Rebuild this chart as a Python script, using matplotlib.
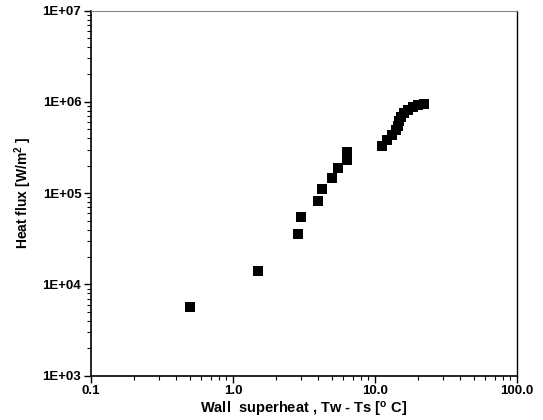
import matplotlib
matplotlib.use("Agg")
import matplotlib.pyplot as plt
from matplotlib.ticker import LogLocator, FixedLocator, NullFormatter

plt.rcParams['font.family'] = ['Liberation Sans', 'DejaVu Sans']
plt.rcParams['mathtext.default'] = 'bf'

superheat = [0.50, 1.50, 2.87, 3.01, 3.97, 4.22, 4.98, 5.49, 6.32, 6.32,
             11.2, 12.1, 13.1, 14.0, 14.6, 14.8, 15.2, 16.0, 17.0, 18.5, 20.0, 22.0]
heat_flux = [5.7e3, 1.42e4, 3.57e4, 5.48e4, 8.2e4, 1.11e5, 1.47e5, 1.89e5, 2.31e5, 2.83e5,
             3.3e5, 3.8e5, 4.3e5, 4.9e5, 5.5e5, 6.2e5, 6.8e5, 7.5e5, 8.2e5, 8.8e5, 9.2e5, 9.6e5]

xticks = [0.1, 1.0, 10.0, 100.0]
xticklabels = ["0.1", "1.0", "10.0", "100.0"]
yticks = [1e3, 1e4, 1e5, 1e6, 1e7]
yticklabels = ["1E+03", "1E+04", "1E+05", "1E+06", "1E+07"]

fig = plt.figure(figsize=(5.43, 4.2), dpi=100)
ax = fig.add_axes([0.1676, 0.1055, 0.952 - 0.1676, 0.9745 - 0.1055])

ax.plot(superheat, heat_flux, linestyle='none', marker='s', markersize=7,
        color='black', markeredgewidth=0)

ax.set_xscale('log')
ax.set_yscale('log')
ax.set_xlim(0.1, 100)
ax.set_ylim(1e3, 1e7)

ax.xaxis.set_major_locator(FixedLocator(xticks))
ax.set_xticklabels(xticklabels)
ax.yaxis.set_major_locator(FixedLocator(yticks))
ax.set_yticklabels(yticklabels)
ax.xaxis.set_minor_locator(LogLocator(base=10, subs=range(2, 10)))
ax.yaxis.set_minor_locator(LogLocator(base=10, subs=range(2, 10)))
ax.xaxis.set_minor_formatter(NullFormatter())
ax.yaxis.set_minor_formatter(NullFormatter())

ax.tick_params(which='major', direction='out', length=5, width=1.0, labelsize=9.5, pad=2)
ax.tick_params(which='minor', direction='out', length=3, width=0.8)
ax.tick_params(top=False, right=False, which='both')

for lab in ax.get_xticklabels() + ax.get_yticklabels():
    lab.set_fontweight('bold')

ax.spines['left'].set_linewidth(1.2)
ax.spines['bottom'].set_linewidth(1.2)
ax.spines['right'].set_linewidth(1.0)
ax.spines['top'].set_linewidth(0.8)
ax.spines['top'].set_color('#888888')

ax.set_xlabel("Wall  superheat , Tw - Ts [$\\mathregular{^o}$ C]", fontsize=10.5,
              fontweight='bold', labelpad=2)
ax.set_ylabel("Heat flux [W/m$\\mathregular{^2}$ ]", fontsize=10, fontweight='bold', labelpad=6)

fig.savefig("out.png", dpi=100)
